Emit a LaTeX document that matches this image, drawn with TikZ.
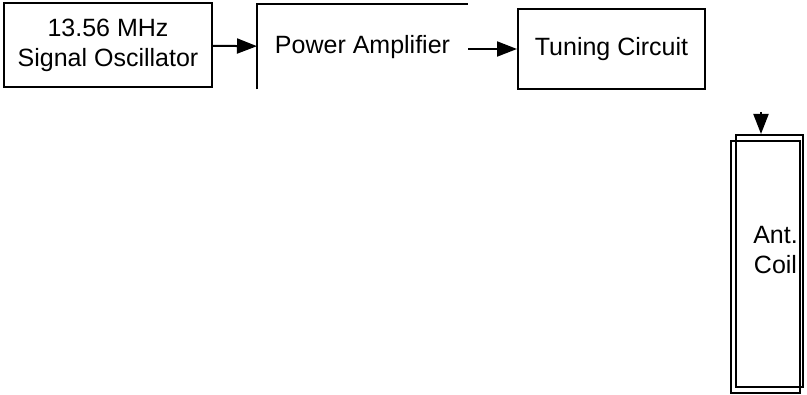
\documentclass[tikz,border=0pt]{standalone}
\usepackage{fontspec}
\setmainfont{Liberation Sans}
\usetikzlibrary{arrows.meta}

\begin{document}
\begin{tikzpicture}[x=1pt,y=-1pt,line width=2pt,
    >={Triangle[length=20pt,width=15pt]},
    every node/.style={font=\fontsize{25}{30}\selectfont, inner sep=0pt, align=center}]

  \useasboundingbox (0,0) rectangle (807,395);

  \begin{scope}[every node/.append style={draw, rectangle}]
    \node[minimum width=208pt, minimum height=84pt] (osc)  at (108,45) {13.56 MHz\\Signal Oscillator};
    \node[minimum width=187pt, minimum height=80pt] (tune) at (611.5,49) {Tuning Circuit};
    \node[minimum width=67pt, minimum height=252pt] (coil) at (769.5,261) {};
  \end{scope}

  % amplifier only framed on two sides
  \node[minimum width=209pt, minimum height=83pt] (amp) at (362.5,47) {Power Amplifier};
  \draw (amp.south west) -- (amp.north west) -- (amp.north east);

  % second turn of the coil
  \draw ([xshift=-4pt,yshift=-7pt]coil.north west) rectangle ([xshift=-4pt,yshift=-5pt]coil.south east);
  \node (coiltxt) at ([xshift=6pt,yshift=11pt]coil.center) {Ant.\\Coil};

  \coordinate (feed) at (761,112);

  \path (osc) edge[->] (amp);
  \draw[->] (amp.east |- tune.west) -- (tune.west);
  \draw[->] (feed) -- (feed |- coil.north);
\end{tikzpicture}
\end{document}
